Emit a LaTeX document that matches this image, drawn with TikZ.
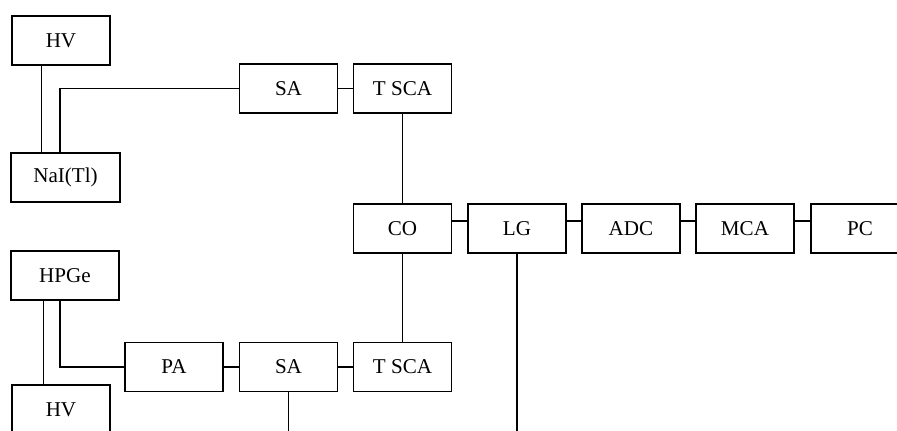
\documentclass[tikz,border=0pt]{standalone}
\usepackage{fontspec}
\setmainfont{Liberation Serif}
\usepackage{tikz}
\usetikzlibrary{calc, positioning}

\begin{document}
\begin{tikzpicture}[x=0.02cm, y=-0.02cm,
    box/.style={draw, line width=0.6pt, minimum width=1.96cm, minimum height=0.98cm,
        inner sep=0pt, font=\fontsize{12}{14}\selectfont},
    wire/.style={line width=0.85pt},
    hvwire/.style={line width=0.5pt}]
    % 1. Khung hình
    \clip (0,0) rectangle (897,431);

    % 2. Nhánh NaI(Tl)
    \node[box] (hvtop) at (61,40.5) {HV};
    \node[box, minimum width=2.18cm] (nai) at (65.5,177.5) {NaI(Tl)};
    \node[box] (saone) at (288.5,88.5) {SA};
    \node[box] (tscaone) at (402.5,88.5) {T SCA};

    % 3. Hàng giữa
    \node[box] (co) at (402.5,228.5) {CO};
    \node[box] (lg) at (517,228.5) {LG};
    \node[box] (adc) at (631,228.5) {ADC};
    \node[box] (mca) at (745,228.5) {MCA};
    \node[box] (pc) at (860,228.5) {PC};

    % 4. Nhánh HPGe
    \node[box, minimum width=2.16cm] (hpge) at (65,275.5) {HPGe};
    \node[box] (pa) at (174,367) {PA};
    \node[box] (satwo) at (288.5,367) {SA};
    \node[box] (tscatwo) at (402.5,367) {T SCA};
    \node[box] (hvbot) at (61,409.5) {HV};
    \coordinate (lgend) at (517,440);
    \coordinate (saend) at (288.5,440);

    % 5. Dây nối
    \draw[hvwire] (hvtop.south -| 41,0) -- (nai.north -| 41,0);
    \draw[wire] (nai.north -| 60,0) |- (saone.west);
    \draw[wire] (saone) -- (tscaone);
    \draw[wire] (tscaone) -- (co);
    \foreach \a/\b in {co/lg, lg/adc, adc/mca, mca/pc}
        \draw[wire] ([yshift=0.15cm]\a.east) -- ([yshift=0.15cm]\b.west);
    \draw[wire] (lg.south) -- (lgend);
    \draw[wire] (co) -- (tscatwo);
    \draw[hvwire] (hpge.south -| 43,0) -- (hvbot.north -| 43,0);
    \draw[wire] (hpge.south -| 60,0) |- (pa.west);
    \draw[wire] (pa) -- (satwo) -- (tscatwo);
    \draw[wire] (satwo.south) -- (saend);
\end{tikzpicture}
\end{document}
